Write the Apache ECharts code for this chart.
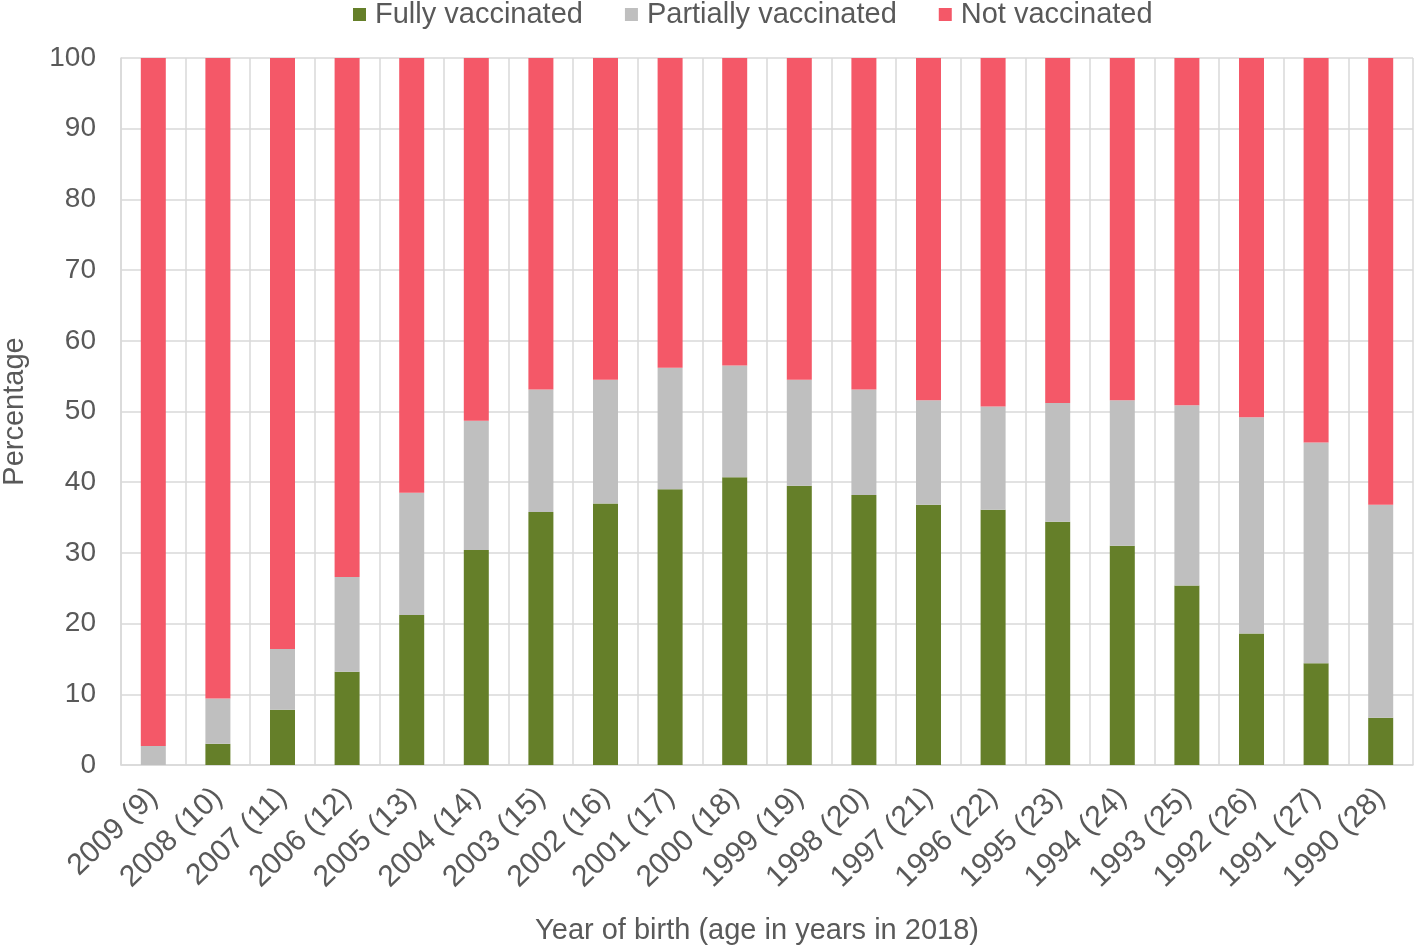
<!DOCTYPE html>
<html>
<head>
<meta charset="utf-8">
<script src="https://cdn.jsdelivr.net/npm/echarts@6/dist/echarts.min.js"></script>
<style>
html,body{margin:0;padding:0;background:#fff;}
#chart{width:1416px;height:947px;}
</style>
</head>
<body>
<div id="chart"></div>
<script>
const categories = ["2009 (9)","2008 (10)","2007 (11)","2006 (12)","2005 (13)","2004 (14)","2003 (15)","2002 (16)","2001 (17)","2000 (18)","1999 (19)","1998 (20)","1997 (21)","1996 (22)","1995 (23)","1994 (24)","1993 (25)","1992 (26)","1991 (27)","1990 (28)"];
const fullyVaccinated = [0, 3.0, 7.8, 13.2, 21.2, 30.4, 35.8, 37.0, 39.0, 40.7, 39.5, 38.2, 36.8, 36.1, 34.4, 31.0, 25.4, 18.6, 14.4, 6.7];
const partiallyVaccinated = [2.7, 6.4, 8.6, 13.4, 17.3, 18.3, 17.3, 17.5, 17.2, 15.8, 15.0, 14.9, 14.8, 14.6, 16.8, 20.6, 25.5, 30.6, 31.2, 30.1];
const notVaccinated = [97.3, 90.6, 83.6, 73.4, 61.5, 51.3, 46.9, 45.5, 43.8, 43.5, 45.5, 46.9, 48.4, 49.3, 48.8, 48.4, 49.1, 50.8, 54.4, 63.2];
const seriesNames = ["Fully vaccinated", "Partially vaccinated", "Not vaccinated"];
const colors = ["#657F29", "#BFBFBF", "#F45868"];

const font = "'Liberation Sans', Arial, sans-serif";
const textColor = "#595959";
const chart = echarts.init(document.getElementById('chart'), null, {renderer: 'canvas'});
const seriesData = [fullyVaccinated, partiallyVaccinated, notVaccinated];
chart.setOption({
  animation: false,
  backgroundColor: '#fff',
  color: colors,
  legend: {
    left: 348, top: -5,
    itemWidth: 13, itemHeight: 13, itemGap: 42,
    icon: 'rect',
    textStyle: {fontFamily: font, fontSize: 29, color: textColor, padding: [0,0,0,4]},
    data: seriesNames
  },
  grid: {left: 121, right: 3, top: 58, bottom: 182, containLabel: false, outerBoundsMode: 'none'},
  xAxis: {
    type: 'category',
    data: categories,
    name: 'Year of birth (age in years in 2018)',
    nameLocation: 'middle',
    nameGap: 151,
    nameTextStyle: {fontFamily: font, fontSize: 29, color: textColor, padding: [0, 20, 0, 0]},
    axisLine: {show: true, lineStyle: {color: '#D9D9D9', width: 1.5}},
    axisTick: {show: false},
    splitLine: {show: true, lineStyle: {color: '#D9D9D9', width: 1.5}},
    axisLabel: {rotate: 44, margin: 28, fontFamily: font, fontSize: 30, color: textColor, interval: 0}
  },
  yAxis: {
    type: 'value',
    min: 0, max: 100, interval: 10,
    name: 'Percentage',
    nameLocation: 'middle',
    nameGap: 92,
    nameTextStyle: {fontFamily: font, fontSize: 29, color: textColor},
    axisLine: {show: true, lineStyle: {color: '#D9D9D9', width: 1.5}},
    axisTick: {show: false},
    splitLine: {show: true, lineStyle: {color: '#D9D9D9', width: 1.5}},
    axisLabel: {margin: 25, fontFamily: font, fontSize: 28, color: textColor}
  },
  series: seriesNames.map((n, i) => ({
    name: n,
    type: 'bar',
    stack: 'total',
    barWidth: 25,
    data: seriesData[i],
    itemStyle: {color: colors[i]}
  }))
});
</script>
</body>
</html>
